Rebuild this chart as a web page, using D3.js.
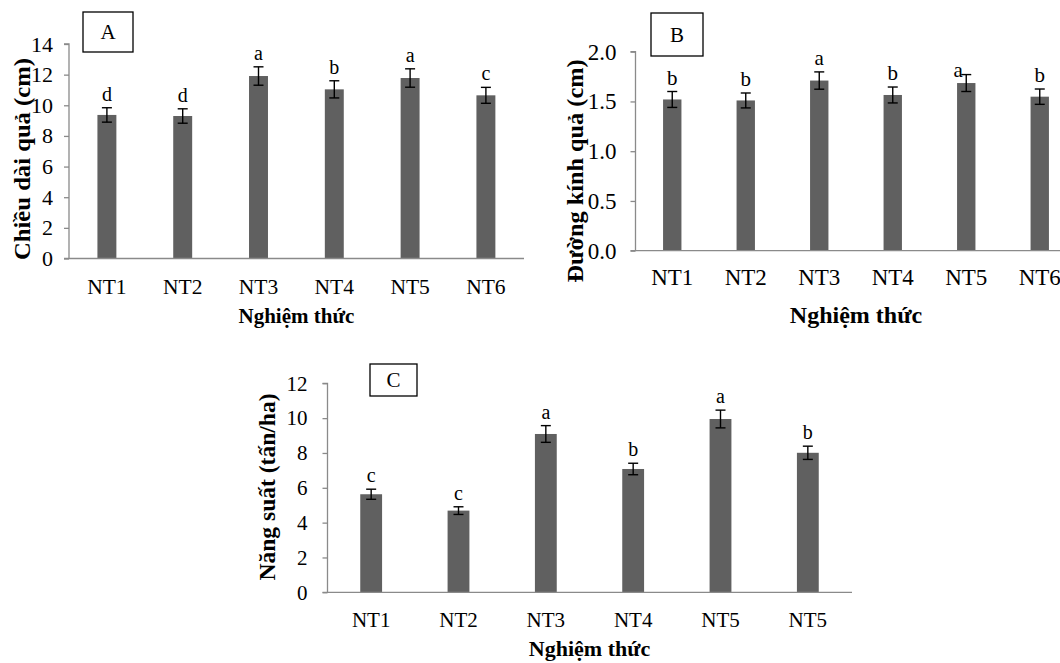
<!DOCTYPE html>
<html>
<head>
<meta charset="utf-8">
<script src="https://cdn.jsdelivr.net/npm/d3@7"></script>
<style>
  html, body { margin: 0; padding: 0; background: #fff; }
  svg { display: block; }
</style>
</head>
<body>
<svg id="chart" width="1060" height="663"></svg>
<script>
// ---------- data ----------
const categoriesAB = ["NT1", "NT2", "NT3", "NT4", "NT5", "NT6"];
const categoriesC  = ["NT1", "NT2", "NT3", "NT4", "NT5", "NT5"];

const lengthMeans   = [9.37, 9.30, 11.91, 11.04, 11.78, 10.65];
const lengthErrors  = [0.47, 0.47, 0.60, 0.56, 0.60, 0.52];
const lengthLetters = ["d", "d", "a", "b", "a", "c"];
const lengthTicks   = [0, 2, 4, 6, 8, 10, 12, 14];

const diamMeans   = [1.52, 1.51, 1.71, 1.565, 1.685, 1.548];
const diamErrors  = [0.08, 0.075, 0.087, 0.08, 0.085, 0.077];
const diamLetters = ["b", "b", "a", "b", "a", "b"];
const diamTicks   = [0, 0.5, 1.0, 1.5, 2.0];

const yieldMeans   = [5.63, 4.69, 9.09, 7.08, 9.95, 8.01];
const yieldErrors  = [0.29, 0.22, 0.48, 0.33, 0.51, 0.38];
const yieldLetters = ["c", "c", "a", "b", "a", "b"];
const yieldTicks   = [0, 2, 4, 6, 8, 10, 12];

// ---------- drawing ----------
const svg = d3.select("#chart");
svg.append("rect").attr("width", 1060).attr("height", 663).attr("fill", "#fff");

const FONT = "Liberation Serif, Times New Roman, serif";
const BAR = "#606060";
const AXIS = "#8a8a8a";

function panel(cfg) {
  const g = svg.append("g");
  const idx = cfg.categories.map((d, i) => i);
  const x = d3.scaleBand().domain(idx).range([cfg.x0, cfg.x1]);
  const y = d3.scaleLinear().domain([cfg.ticks[0], cfg.ticks[cfg.ticks.length - 1]]).range([cfg.yBottom, cfg.yTop]);
  const bw = x.bandwidth() * 0.25;

  // y axis
  const ya = g.append("g").attr("transform", `translate(${cfg.x0},0)`)
    .call(d3.axisLeft(y).tickValues(cfg.ticks).tickSize(5).tickPadding(cfg.yPad).tickFormat(cfg.fmt));
  ya.select(".domain").attr("stroke", AXIS).attr("stroke-width", 1.3)
    .attr("d", `M-5,${cfg.yTop}H0V${cfg.yBottom}`);
  ya.selectAll(".tick line").attr("stroke", AXIS).attr("stroke-width", 1.3);
  ya.selectAll(".tick text").style("font-family", FONT).style("font-size", cfg.yTickSize + "px").attr("fill", "#000");

  // bars
  g.selectAll("rect.bar").data(cfg.means).join("rect")
    .attr("class", "bar")
    .attr("x", (d, i) => x(i) + x.bandwidth() / 2 - bw / 2)
    .attr("width", bw)
    .attr("y", d => y(d))
    .attr("height", d => y(cfg.ticks[0]) - y(d))
    .attr("fill", BAR);

  // x axis
  const xa = g.append("g").attr("transform", `translate(0,${cfg.yBottom})`)
    .call(d3.axisBottom(x).tickSize(0).tickPadding(cfg.xPad).tickFormat(i => cfg.categories[i]));
  xa.select(".domain").attr("stroke", AXIS).attr("stroke-width", 1.3)
    .attr("d", `M${cfg.x0 - 5},0H${cfg.axisEnd}`);
  xa.selectAll(".tick text").style("font-family", FONT).style("font-size", cfg.xTickSize + "px").attr("fill", "#000");

  // error bars
  const eb = g.selectAll("g.err").data(cfg.means).join("g").attr("class", "err");
  eb.each(function (d, i) {
    const cx = x(i) + x.bandwidth() / 2;
    const e = cfg.errors[i];
    const s = d3.select(this);
    s.append("line").attr("x1", cx).attr("x2", cx).attr("y1", y(d + e)).attr("y2", y(d - e));
    s.append("line").attr("x1", cx - 5).attr("x2", cx + 5).attr("y1", y(d + e)).attr("y2", y(d + e));
    s.append("line").attr("x1", cx - 5).attr("x2", cx + 5).attr("y1", y(d - e)).attr("y2", y(d - e));
  });
  eb.selectAll("line").attr("stroke", "#000").attr("stroke-width", 1.4);

  // significance letters
  g.selectAll("text.sig").data(cfg.letters).join("text")
    .attr("class", "sig")
    .attr("x", (d, i) => x(i) + x.bandwidth() / 2 + (cfg.letterShift[i] ? cfg.letterShift[i][0] : 0))
    .attr("y", (d, i) => y(cfg.means[i] + cfg.errors[i]) - 7 + (cfg.letterShift[i] ? cfg.letterShift[i][1] : 0))
    .attr("text-anchor", "middle")
    .style("font-family", FONT).style("font-size", cfg.letterSize + "px").attr("fill", "#000")
    .text(d => d);

  // axis titles
  g.append("text")
    .attr("transform", `translate(${cfg.yLabelX},${cfg.yLabelY}) rotate(-90)`)
    .attr("text-anchor", "middle").attr("dy", "0.35em")
    .style("font-family", FONT).style("font-size", "23px").attr("font-weight", "bold")
    .attr("textLength", cfg.yLabelLen).attr("lengthAdjust", "spacingAndGlyphs")
    .text(cfg.yLabel);
  g.append("text")
    .attr("x", (cfg.x0 + cfg.x1) / 2).attr("y", cfg.xTitleY)
    .attr("text-anchor", "middle")
    .style("font-family", FONT).style("font-size", cfg.xTitleSize + "px").attr("font-weight", "bold")
    .text("Nghiệm thức");

  // panel box
  const b = cfg.box;
  g.append("rect").attr("x", b[0]).attr("y", b[1]).attr("width", b[2] - b[0]).attr("height", b[3] - b[1])
    .attr("fill", "#fff").attr("stroke", "#000").attr("stroke-width", 1.3);
  g.append("text").attr("x", (b[0] + b[2]) / 2).attr("y", (b[1] + b[3]) / 2).attr("dy", "0.35em")
    .attr("text-anchor", "middle").style("font-family", FONT).style("font-size", "21px").text(cfg.boxLabel);
}

panel({
  categories: categoriesAB, means: lengthMeans, errors: lengthErrors, letters: lengthLetters,
  ticks: lengthTicks, fmt: d3.format("d"),
  x0: 69, x1: 523.8, axisEnd: 524, yTop: 44, yBottom: 258.5,
  yTickSize: 22, yPad: 11, xTickSize: 21.5, xPad: 20, letterSize: 20, xTitleSize: 21,
  yLabel: "Chiều dài quả (cm)", yLabelX: 22, yLabelY: 159, yLabelLen: 202,
  xTitleY: 323, box: [83, 12, 133, 52], boxLabel: "A", letterShift: {}
});

panel({
  categories: categoriesAB, means: diamMeans, errors: diamErrors, letters: diamLetters,
  ticks: diamTicks, fmt: d3.format(".1f"),
  x0: 635.5, x1: 1076.5, axisEnd: 1060, yTop: 51.7, yBottom: 250.7,
  yTickSize: 23, yPad: 14, xTickSize: 23, xPad: 18, letterSize: 21, xTitleSize: 24,
  yLabel: "Đường kính quả (cm)", yLabelX: 575, yLabelY: 171, yLabelLen: 223,
  xTitleY: 323, box: [651, 13, 703, 56], boxLabel: "B", letterShift: {4: [-8, 9]}
});

panel({
  categories: categoriesC, means: yieldMeans, errors: yieldErrors, letters: yieldLetters,
  ticks: yieldTicks, fmt: d3.format("d"),
  x0: 327.5, x1: 851.5, axisEnd: 852, yTop: 383.3, yBottom: 592.3,
  yTickSize: 21, yPad: 15, xTickSize: 21, xPad: 20, letterSize: 20, xTitleSize: 22,
  yLabel: "Năng suất (tấn/ha)", yLabelX: 267, yLabelY: 487, yLabelLen: 187,
  xTitleY: 656, box: [370, 364, 417, 396], boxLabel: "C", letterShift: {}
});
</script>
</body>
</html>
